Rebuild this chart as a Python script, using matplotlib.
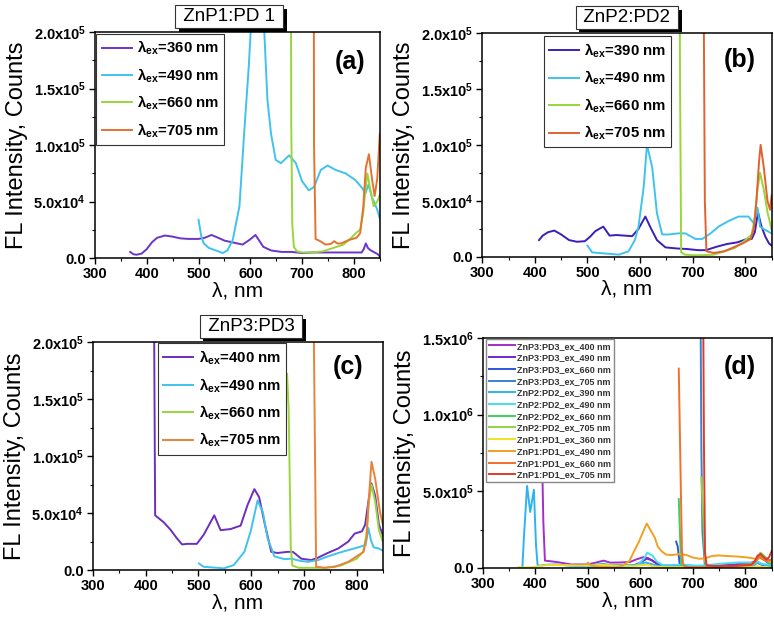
import numpy as np
import matplotlib
matplotlib.use('Agg')
import matplotlib.pyplot as plt
from matplotlib import patheffects
from matplotlib.ticker import MultipleLocator

plt.rcParams['font.family'] = ['Liberation Sans', 'DejaVu Sans']
plt.rcParams['mathtext.fontset'] = 'custom'
plt.rcParams['mathtext.rm'] = 'Liberation Sans'
plt.rcParams['mathtext.it'] = 'Liberation Sans:italic'
plt.rcParams['mathtext.bf'] = 'Liberation Sans:bold'
plt.rcParams['mathtext.default'] = 'bf'

# ---- ZnP1:PD1 spectra ----
wl_p1_360 = [368, 374, 380, 390, 400, 410, 420, 435, 450, 465, 480, 500, 512, 525, 538, 550, 565, 585, 598, 610, 625, 640, 660, 680, 700, 720, 760, 800, 815, 819, 823, 827, 832, 840, 846, 850]
fl_p1_360 = [5.5e3, 3.5e3, 3e3, 4e3, 8e3, 1.4e4, 1.8e4, 2.0e4, 1.9e4, 1.75e4, 1.7e4, 1.7e4, 1.8e4, 2.05e4, 1.8e4, 1.55e4, 1.4e4, 1.2e4, 1.6e4, 2.05e4, 1.0e4, 6.8e3, 5.5e3, 5.5e3, 4.5e3, 5e3, 5e3, 5e3, 5e3, 8e3, 1.3e4, 9e3, 7e3, 5e3, 3.5e3, 1.5e3]

wl_p1_490 = [500, 505, 510, 520, 535, 547, 556, 566, 579, 588, 597, 603, 612, 622, 627, 633, 640, 649, 659, 675, 688, 700, 713, 723, 736, 749, 765, 784, 803, 816, 822, 828, 835, 845, 850]
fl_p1_490 = [3.4e4, 2e4, 1.3e4, 9e3, 6.5e3, 4.5e3, 7e3, 1.6e4, 4.6e4, 1.1e5, 1.7e5, 2.2e5, 2.9e5, 2.3e5, 2.0e5, 1.4e5, 1.1e5, 8.7e4, 8.4e4, 9.1e4, 8.4e4, 6.8e4, 6.0e4, 6.3e4, 7.8e4, 8.2e4, 7.8e4, 7.5e4, 6.9e4, 6.2e4, 5.7e4, 6.5e4, 5.4e4, 4.3e4, 3.5e4]

wl_p1_660 = [673, 677, 679, 681, 684, 690, 700, 720, 740, 760, 780, 795, 806, 812, 818, 822, 826, 830, 838, 845, 850]
fl_p1_660 = [1.3e6, 5e5, 1.2e5, 3e4, 1e4, 6e3, 5e3, 5e3, 6e3, 9e3, 1.2e4, 1.8e4, 2.3e4, 2.5e4, 4e4, 6e4, 7.5e4, 6.5e4, 4.6e4, 5e4, 5.6e4]

wl_p1_705 = [719, 721, 723, 726, 735, 745, 755, 762, 768, 775, 790, 805, 812, 818, 823, 829, 835, 840, 845, 850]
fl_p1_705 = [2e6, 8e5, 1e5, 1.7e4, 1.5e4, 1.2e4, 1.25e4, 1.5e4, 1.3e4, 1.3e4, 1.6e4, 1.8e4, 2.2e4, 4.5e4, 8e4, 9.2e4, 7e4, 5.5e4, 7e4, 1.1e5]

# ---- ZnP2:PD2 spectra ----
wl_p2_390 = [375, 378, 384, 390, 397, 401, 404, 408, 415, 425, 437, 450, 465, 480, 495, 505, 515, 530, 542, 555, 570, 585, 597, 610, 620, 632, 648, 670, 690, 710, 725, 745, 765, 785, 800, 812, 818, 824, 830, 838, 845, 850]
fl_p2_390 = [0, 2e5, 5.35e5, 3.65e5, 5.1e5, 1.5e5, 2e4, 1.5e4, 1.9e4, 2.2e4, 2.35e4, 2e4, 1.5e4, 1.35e4, 1.4e4, 1.8e4, 2.3e4, 2.7e4, 1.9e4, 1.95e4, 1.9e4, 1.85e4, 2.5e4, 3.6e4, 2.6e4, 1.5e4, 8.5e3, 7.5e3, 7e3, 6e3, 6e3, 9e3, 1.15e4, 1.3e4, 1.55e4, 1.6e4, 2.2e4, 4e4, 2.8e4, 1.8e4, 1.2e4, 1e4]

wl_p2_490 = [500, 509, 534, 560, 578, 590, 597, 607, 613, 623, 632, 642, 654, 673, 686, 705, 718, 734, 749, 768, 787, 806, 816, 823, 828, 838, 850]
fl_p2_490 = [1e4, 4e3, 3e3, 2e3, 5e3, 1.5e4, 2.7e4, 6.3e4, 1.0e5, 8e4, 3.9e4, 2e4, 2e4, 2.1e4, 2.1e4, 1.6e4, 1.6e4, 2.1e4, 2.7e4, 3.2e4, 3.6e4, 3.6e4, 3e4, 4.4e4, 2.7e4, 2.4e4, 2.1e4]

wl_p2_660 = [673, 676, 678, 685, 700, 720, 740, 760, 780, 800, 812, 818, 823, 828, 835, 842, 850]
fl_p2_660 = [4.5e5, 1.5e5, 4e3, 2e3, 1.5e3, 1.5e3, 2e3, 5e3, 8e3, 1.5e4, 2e4, 3.5e4, 6e4, 7.5e4, 6e4, 4e4, 2.4e4]

wl_p2_705 = [716, 720, 723, 726, 740, 760, 775, 795, 810, 816, 821, 826, 829, 835, 842, 847, 850]
fl_p2_705 = [5.9e5, 3e5, 5e4, 5e3, 3.5e3, 5e3, 8e3, 1.2e4, 1.6e4, 2.5e4, 5e4, 8.5e4, 1e5, 8e4, 5e4, 4.2e4, 5.5e4]

# ---- ZnP3:PD3 spectra ----
wl_p3_400 = [408, 411, 415, 418, 434, 446, 459, 469, 478, 497, 510, 530, 542, 561, 580, 593, 606, 615, 625, 638, 650, 669, 679, 695, 714, 727, 745, 765, 784, 796, 810, 816, 822, 828, 835, 842, 850]
fl_p3_400 = [9e5, 1e6, 3e5, 4.8e4, 4.2e4, 3.6e4, 2.8e4, 2.25e4, 2.3e4, 2.3e4, 3.1e4, 4.8e4, 3.5e4, 3.6e4, 3.9e4, 5.7e4, 7.1e4, 6.4e4, 4.2e4, 1.6e4, 1.5e4, 1.6e4, 1.6e4, 1e4, 8.8e3, 1.1e4, 1.5e4, 1.9e4, 2.5e4, 3.2e4, 3.4e4, 4e4, 6e4, 7.6e4, 6.5e4, 4e4, 3e4]

wl_p3_490 = [501, 510, 536, 548, 567, 587, 599, 612, 622, 631, 644, 663, 676, 695, 708, 727, 745, 765, 784, 803, 817, 822, 827, 832, 841, 850]
fl_p3_490 = [5.8e3, 2.9e3, 2e3, 1.5e3, 4.4e3, 1.6e4, 3.4e4, 6.1e4, 5.1e4, 2.8e4, 1.2e4, 9.6e3, 1.0e4, 7.9e3, 7.3e3, 8.8e3, 1.2e4, 1.5e4, 1.75e4, 2.0e4, 2.2e4, 3.7e4, 2.6e4, 2e4, 1.9e4, 1.7e4]

wl_p3_660 = [668, 671, 675, 678, 690, 710, 740, 770, 800, 812, 818, 823, 828, 835, 842, 850]
fl_p3_660 = [1.72e5, 1.4e5, 2e4, 4e3, 2e3, 2e3, 2e3, 4e3, 1e4, 1.6e4, 3e4, 6e4, 7.5e4, 6e4, 3.5e4, 2.4e4]

wl_p3_705 = [714, 716, 718, 723, 740, 759, 784, 803, 813, 819, 822, 828, 835, 844, 850]
fl_p3_705 = [2e6, 8e5, 2.4e5, 3e3, 2e3, 2.9e3, 7.3e3, 1.3e4, 1.6e4, 3e4, 5.7e4, 9.5e4, 8e4, 5.1e4, 3.9e4]

# panel (b) shows the 390 nm curve only from here on
b_start_390 = 406

ex_labels_a = ['360', '490', '660', '705']
ex_labels_b = ['390', '490', '660', '705']
ex_labels_c = ['400', '490', '660', '705']
colors_a = ['#6a35c8', '#3fc3ee', '#98d63c', '#e5722f']
colors_b = ['#3a1fb8', '#3fc3ee', '#98d63c', '#e0622f']
colors_c = ['#6a2ec0', '#3fc3ee', '#98d63c', '#e8823a']

titles = [' ZnP1:PD 1 ', ' ZnP2:PD2 ', ' ZnP3:PD3 ']
panel_tags = ['(a)', '(b)', '(c)', '(d)']

yticks_abc = [0, 5e4, 1e5, 1.5e5, 2e5]
ylabels_abc = ['0.0', '5.0x10$^4$', '1.0x10$^5$', '1.5x10$^5$', '2.0x10$^5$']
yticks_d = [0, 5e5, 1e6, 1.5e6]
ylabels_d = ['0.0', '5.0x10$^5$', '1.0x10$^6$', '1.5x10$^6$']
xticks = [300, 400, 500, 600, 700, 800]

d_labels = ['ZnP3:PD3_ex_400 nm', 'ZnP3:PD3_ex_490 nm', 'ZnP3:PD3_ex_660 nm', 'ZnP3:PD3_ex_705 nm',
            'ZnP2:PD2_ex_390 nm', 'ZnP2:PD2_ex_490 nm', 'ZnP2:PD2_ex_660 nm', 'ZnP2:PD2_ex_705 nm',
            'ZnP1:PD1_ex_360 nm', 'ZnP1:PD1_ex_490 nm', 'ZnP1:PD1_ex_660 nm', 'ZnP1:PD1_ex_705 nm']
d_colors = ['#a32fc4', '#7424d2', '#2f55d6', '#3b82cc',
            '#2fb3f0', '#45dff0', '#3fcf5f', '#8fd440',
            '#f2e024', '#f2a022', '#f26f30', '#dd3b2c']


def style_axes(ax, yticks, ylabels, ymax, yminor):
    ax.set_xlim(300, 850)
    ax.set_ylim(0, ymax)
    ax.set_xticks(xticks)
    ax.set_xticklabels([str(t) for t in xticks], fontweight='bold', fontsize=10.5)
    ax.set_yticks(yticks)
    ax.set_yticklabels(ylabels, fontweight='bold', fontsize=10.5)
    ax.xaxis.set_minor_locator(MultipleLocator(50))
    ax.yaxis.set_minor_locator(MultipleLocator(yminor))
    ax.tick_params(which='major', direction='out', length=4, width=1, pad=2.5)
    ax.tick_params(which='minor', direction='out', length=2.5, width=0.8)
    for s in ax.spines.values():
        s.set_linewidth(1.1)
    ax.set_xlabel('λ, nm', fontsize=15, labelpad=0)
    ax.set_ylabel('FL Intensity, Counts', fontsize=17, labelpad=4)


def title_box(ax, text, x):
    t = ax.annotate(text, xy=(x, 1.0), xycoords='axes fraction', xytext=(0, 5),
                    textcoords='offset points', ha='center', va='bottom', fontsize=13.5,
                    bbox=dict(boxstyle='square,pad=0.15', fc='white', ec='#333333', lw=0.8))
    t.get_bbox_patch().set_path_effects([
        patheffects.withSimplePatchShadow(offset=(2.5, -2.5), shadow_rgbFace='black', alpha=1)])


fig = plt.figure(figsize=(7.74, 6.19), dpi=100)
ax_a = fig.add_axes([0.1227, 0.583, 0.368, 0.365])
ax_b = fig.add_axes([0.623, 0.585, 0.374, 0.362])
ax_c = fig.add_axes([0.120, 0.079, 0.375, 0.3685])
ax_d = fig.add_axes([0.624, 0.0824, 0.373, 0.3716])

series_a = [(wl_p1_360, fl_p1_360), (wl_p1_490, fl_p1_490), (wl_p1_660, fl_p1_660), (wl_p1_705, fl_p1_705)]
wl_b390 = np.array(wl_p2_390)
fl_b390 = np.array(fl_p2_390)
keep = wl_b390 >= b_start_390
series_b = [(wl_b390[keep], fl_b390[keep]), (wl_p2_490, fl_p2_490), (wl_p2_660, fl_p2_660), (wl_p2_705, fl_p2_705)]
series_c = [(wl_p3_400, fl_p3_400), (wl_p3_490, fl_p3_490), (wl_p3_660, fl_p3_660), (wl_p3_705, fl_p3_705)]

panels = [(ax_a, series_a, ex_labels_a, colors_a, (0.0, 1.0), 0.472),
          (ax_b, series_b, ex_labels_b, colors_b, (0.207, 0.991), 0.5),
          (ax_c, series_c, ex_labels_c, colors_c, (0.22, 1.0), 0.545)]

for i, (ax, series, exl, cols, anchor, tx) in enumerate(panels):
    for (wl, fl), lab, col in zip(series, exl, cols):
        ax.plot(wl, fl, color=col, lw=1.4, label=r'λ$_{ex}$=' + lab + ' nm')
    style_axes(ax, yticks_abc, ylabels_abc, 2e5, 2.5e4)
    leg = ax.legend(loc='upper left', bbox_to_anchor=anchor, borderaxespad=0.1,
                    fancybox=False, framealpha=1, edgecolor='#333333',
                    prop={'weight': 'bold', 'size': 10.8}, handlelength=2.0,
                    handletextpad=0.35, labelspacing=0.6, borderpad=0.35)
    leg.get_frame().set_linewidth(0.8)
    title_box(ax, titles[i], tx)

tag_pos = [(0.895, 0.867), (0.89, 0.88), (0.88, 0.89)]
for ax, tag, (px, py) in zip([ax_a, ax_b, ax_c], panel_tags[:3], tag_pos):
    ax.text(px, py, tag, transform=ax.transAxes, ha='center', va='center',
            fontsize=18, fontweight='bold')

# panel (d): all twelve spectra
series_d = [(wl_p3_400, fl_p3_400), (wl_p3_490, fl_p3_490), (wl_p3_660, fl_p3_660), (wl_p3_705, fl_p3_705),
            (wl_p2_390, fl_p2_390), (wl_p2_490, fl_p2_490), (wl_p2_660, fl_p2_660), (wl_p2_705, fl_p2_705),
            (wl_p1_360, fl_p1_360), (wl_p1_490, fl_p1_490), (wl_p1_660, fl_p1_660), (wl_p1_705, fl_p1_705)]
for (wl, fl), lab, col in zip(series_d, d_labels, d_colors):
    ax_d.plot(wl, fl, color=col, lw=1.4, label=lab)
style_axes(ax_d, yticks_d, ylabels_d, 1.5e6, 2.5e5)
leg = ax_d.legend(loc='upper left', bbox_to_anchor=(0.007, 1.0), borderaxespad=0.1,
                  fancybox=False, framealpha=1, edgecolor='#888888',
                  prop={'weight': 'bold', 'size': 6.5}, handlelength=2.9,
                  handletextpad=0.3, labelspacing=0.3, borderpad=0.3)
for t in leg.get_texts():
    t.set_color('#333333')
ax_d.text(0.89, 0.874, panel_tags[3], transform=ax_d.transAxes, ha='center', va='center',
          fontsize=18, fontweight='bold')

fig.savefig('out.png', dpi=100)
